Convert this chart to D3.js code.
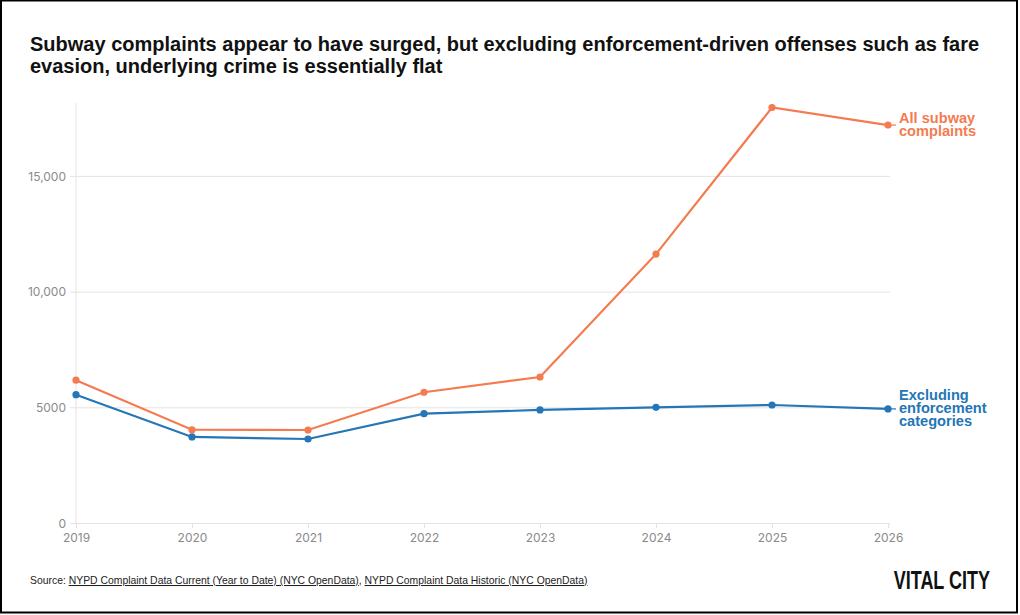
<!DOCTYPE html>
<head>
  <meta charset="utf-8">
  <title>Subway complaints</title>
  <script src="https://cdn.jsdelivr.net/npm/d3@7"></script>
</head>

<style>
  body {
    margin: 0;
    background: #fff;
  }

  svg text {
    font-family: "Liberation Sans", Arial, sans-serif;
  }

  .title {
    font-size: 20px;
    font-weight: bold;
    fill: #111;
  }

  .axis text {
    font-family: "Inter", "Liberation Sans", sans-serif;
    font-size: 12px;
    fill: #8a8a8a;
  }

  .grid line {
    stroke: #e3e3e3;
  }

  .series-label {
    font-size: 14.6px;
    font-weight: bold;
  }

  .source {
    font-size: 10.4px;
    fill: #222;
  }
</style>

<body>
  <svg id='svg-chart'></svg>
</body>

<script>

var years = [2019, 2020, 2021, 2022, 2023, 2024, 2025, 2026];
var all_complaints = [6170, 4030, 4020, 5650, 6310, 11620, 17955, 17195];
var excl_enforcement = [5545, 3720, 3630, 4725, 4885, 5000, 5100, 4930];
var y_ticks = [0, 5000, 10000, 15000];
var y_tick_labels = ['0', '5000', '10,000', '15,000'];

var series = [
  {name: ['All subway', 'complaints'], values: all_complaints, colour: '#f47b50'},
  {name: ['Excluding', 'enforcement', 'categories'], values: excl_enforcement, colour: '#2476b6'}
];

var width = 1020,
    height = 615,
    margin = {top: 103, right: 132, bottom: 92, left: 76};

var svg = d3.select('#svg-chart')
  .attr('width', width)
  .attr('height', height);

// frame
svg.append('rect')
  .attr('x', 1).attr('y', 0.5)
  .attr('width', 1016).attr('height', 612)
  .attr('fill', 'none')
  .attr('stroke', '#000')
  .attr('stroke-width', 2);

svg.append('text')
  .attr('class', 'title')
  .attr('x', 30)
  .attr('y', 51)
  .text('Subway complaints appear to have surged, but excluding enforcement-driven offenses such as fare');

svg.append('text')
  .attr('class', 'title')
  .attr('x', 30)
  .attr('y', 73)
  .text('evasion, underlying crime is essentially flat');

var x = d3.scaleLinear()
  .domain([2019, 2026])
  .range([margin.left, width - margin.right]);

var y = d3.scaleLinear()
  .domain([0, 18150])
  .range([height - margin.bottom, margin.top]);

// horizontal grid
var grid = svg.append('g')
  .attr('class', 'grid')
  .attr('transform', 'translate(' + margin.left + ',0)')
  .call(d3.axisLeft(y)
    .tickValues(y_ticks)
    .tickSize(-(width - margin.right - margin.left + 2))
    .tickFormat(''));
grid.select('.domain').remove();

// vertical axis line
svg.append('line')
  .attr('x1', margin.left).attr('x2', margin.left)
  .attr('y1', margin.top).attr('y2', height - margin.bottom)
  .attr('stroke', '#e3e3e3');

var y_axis = svg.append('g')
  .attr('class', 'axis')
  .attr('transform', 'translate(' + margin.left + ',0)')
  .call(d3.axisLeft(y)
    .tickValues(y_ticks)
    .tickSize(6)
    .tickPadding(4)
    .tickFormat(function(d, i) { return y_tick_labels[i]; }));
y_axis.select('.domain').remove();
y_axis.selectAll('.tick line').attr('stroke', '#e3e3e3');
y_axis.selectAll('.tick text').attr('dy', '0.35em');

var x_axis = svg.append('g')
  .attr('class', 'axis')
  .attr('transform', 'translate(0,' + (height - margin.bottom) + ')')
  .call(d3.axisBottom(x)
    .tickValues(years)
    .tickSize(5)
    .tickPadding(5)
    .tickFormat(d3.format('d')));
x_axis.select('.domain').remove();
x_axis.selectAll('.tick line').attr('stroke', '#e3e3e3');

var line = d3.line()
  .x(function(d, i) { return x(years[i]); })
  .y(function(d) { return y(d); });

var series_g = svg.selectAll('g.series')
  .data(series)
  .enter()
  .append('g')
  .attr('class', 'series');

series_g.append('path')
  .attr('d', function(d) { return line(d.values); })
  .attr('fill', 'none')
  .attr('stroke', function(d) { return d.colour; })
  .attr('stroke-width', 2.2);

series_g.selectAll('circle')
  .data(function(d) { return d.values.map(function(v) { return {v: v, colour: d.colour}; }); })
  .enter()
  .append('circle')
  .attr('cx', function(d, i) { return x(years[i]); })
  .attr('cy', function(d) { return y(d.v); })
  .attr('r', 3.6)
  .attr('fill', function(d) { return d.colour; });

// short connector to the label
series_g.append('line')
  .attr('x1', x(2026))
  .attr('x2', x(2026) + 8)
  .attr('y1', function(d) { return y(d.values[d.values.length - 1]); })
  .attr('y2', function(d) { return y(d.values[d.values.length - 1]); })
  .attr('stroke', function(d) { return d.colour; })
  .attr('stroke-width', 1.2);

// one text per label line
series_g.each(function(s) {
  var last_y = y(s.values[s.values.length - 1]);
  var n = s.name.length;
  d3.select(this).selectAll('text.series-label')
    .data(s.name)
    .enter()
    .append('text')
    .attr('class', 'series-label')
    .attr('fill', s.colour)
    .attr('x', x(2026) + 11)
    .attr('y', function(d, i) { return last_y + 4 - (n - 1) * 6.5 + i * 13; })
    .text(function(d) { return d; });
});

// source
var src = svg.append('text')
  .attr('class', 'source')
  .attr('x', 30)
  .attr('y', 584);
src.append('tspan').text('Source: ');
src.append('tspan').attr('text-decoration', 'underline').text('NYPD Complaint Data Current (Year to Date) (NYC OpenData)');
src.append('tspan').text(', ');
src.append('tspan').attr('text-decoration', 'underline').text('NYPD Complaint Data Historic (NYC OpenData)');

// logo, squeezed horizontally to look condensed
svg.append('text')
  .attr('transform', 'translate(990,589) scale(0.72,1)')
  .attr('text-anchor', 'end')
  .style('font-family', '"Liberation Sans", sans-serif')
  .style('font-weight', 'bold')
  .style('font-size', '25px')
  .attr('fill', '#111')
  .text('VITAL CITY');

</script>
